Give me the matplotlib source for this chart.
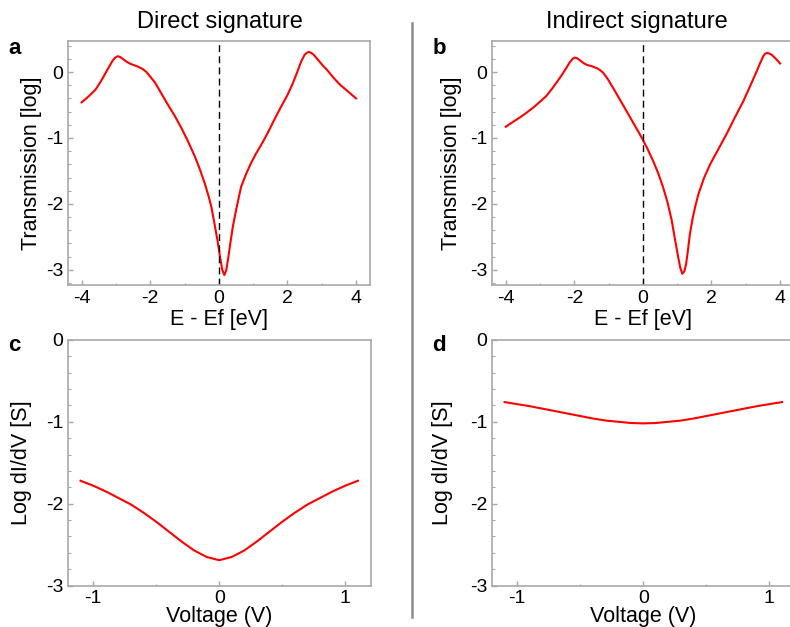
import matplotlib
matplotlib.use("Agg")
import matplotlib.pyplot as plt
from matplotlib.lines import Line2D
from matplotlib.ticker import MultipleLocator

plt.rcParams["font.family"] = ["Liberation Sans", "DejaVu Sans"]
plt.rcParams["axes.unicode_minus"] = False

# transmission spectra, log scale
e_direct = [-4.0, -3.8, -3.6, -3.45, -3.31, -3.2, -3.1, -3.02, -2.95, -2.88,
            -2.80, -2.70, -2.58, -2.45, -2.35, -2.22, -2.11, -2.0, -1.86, -1.67,
            -1.48, -1.28, -1.09, -0.90, -0.70, -0.55, -0.41, -0.30, -0.22, -0.12,
            -0.04, 0.04, 0.10, 0.16, 0.22, 0.28, 0.34, 0.41, 0.52, 0.65,
            0.80, 0.94, 1.08, 1.23, 1.42, 1.61, 1.80, 2.0, 2.15, 2.29,
            2.40, 2.50, 2.57, 2.63, 2.70, 2.77, 2.90, 3.03, 3.16, 3.35,
            3.55, 3.78, 4.0]
t_direct = [-0.46, -0.37, -0.27, -0.15, -0.02, 0.08, 0.17, 0.22, 0.24, 0.23,
            0.20, 0.16, 0.125, 0.10, 0.08, 0.045, 0.0, -0.07, -0.16, -0.33,
            -0.50, -0.67, -0.85, -1.05, -1.28, -1.48, -1.69, -1.88, -2.04, -2.32,
            -2.55, -2.82, -3.0, -3.08, -3.0, -2.80, -2.58, -2.34, -2.05, -1.74,
            -1.54, -1.38, -1.24, -1.11, -0.93, -0.73, -0.54, -0.35, -0.18, 0.005,
            0.16, 0.26, 0.295, 0.305, 0.29, 0.26, 0.18, 0.10, 0.03, -0.09,
            -0.20, -0.30, -0.40]

e_indirect = [-4.0, -3.8, -3.59, -3.40, -3.20, -3.0, -2.81, -2.66, -2.52, -2.37,
              -2.23, -2.13, -2.05, -1.99, -1.92, -1.84, -1.74, -1.64, -1.50, -1.35,
              -1.25, -1.16, -1.02, -0.87, -0.68, -0.48, -0.26, -0.04, 0.13, 0.30,
              0.45, 0.59, 0.72, 0.84, 0.94, 1.03, 1.09, 1.15, 1.21, 1.26,
              1.31, 1.37, 1.45, 1.53, 1.62, 1.78, 1.96, 2.20, 2.44, 2.68,
              2.93, 3.13, 3.32, 3.43, 3.51, 3.56, 3.61, 3.67, 3.76, 3.88, 4.0]
t_indirect = [-0.83, -0.76, -0.69, -0.62, -0.54, -0.45, -0.36, -0.26, -0.16, -0.05,
              0.065, 0.15, 0.20, 0.22, 0.21, 0.18, 0.14, 0.11, 0.09, 0.06,
              0.03, -0.01, -0.11, -0.24, -0.41, -0.59, -0.79, -0.99, -1.16, -1.35,
              -1.54, -1.75, -1.98, -2.25, -2.55, -2.81, -2.97, -3.06, -3.02, -2.91,
              -2.72, -2.46, -2.22, -2.03, -1.85, -1.61, -1.40, -1.17, -0.94, -0.69,
              -0.44, -0.21, 0.015, 0.15, 0.24, 0.275, 0.29, 0.285, 0.26, 0.20, 0.13]

# differential conductance
v_bias = [-1.1, -1.0, -0.9, -0.8, -0.7, -0.6, -0.5, -0.4, -0.3, -0.2, -0.1, 0.0,
          0.1, 0.2, 0.3, 0.4, 0.5, 0.6, 0.7, 0.8, 0.9, 1.0, 1.1]
g_direct = [-1.72, -1.78, -1.85, -1.93, -2.01, -2.11, -2.22, -2.34, -2.46, -2.57,
            -2.65, -2.69, -2.65, -2.57, -2.46, -2.34, -2.22, -2.11, -2.01, -1.93,
            -1.85, -1.78, -1.72]
g_indirect = [-0.76, -0.785, -0.81, -0.84, -0.87, -0.90, -0.93, -0.96, -0.985, -1.0,
              -1.015, -1.02, -1.015, -1.0, -0.985, -0.96, -0.93, -0.90, -0.87, -0.84,
              -0.81, -0.785, -0.76]

SPINE = "#a8a8a8"
RED = "#ff0000"


def style_axes(ax):
    for side in ax.spines.values():
        side.set_color(SPINE)
        side.set_linewidth(1.2)
    ax.tick_params(which="both", direction="in", color=SPINE, labelsize=14,
                   pad=3.5)
    ax.tick_params(which="major", length=3.5, width=1)
    ax.tick_params(which="minor", length=1.8, width=0.8)
    ax.yaxis.set_minor_locator(MultipleLocator(0.2))


fig = plt.figure(figsize=(7.9, 6.27), dpi=100)

ax_a = fig.add_axes([0.086, 0.5455, 0.382, 0.389])
ax_b = fig.add_axes([0.6228, 0.5455, 0.382, 0.389])
ax_c = fig.add_axes([0.086, 0.066, 0.383, 0.392])
ax_d = fig.add_axes([0.6228, 0.066, 0.383, 0.392])

for ax, e, t in ((ax_a, e_direct, t_direct), (ax_b, e_indirect, t_indirect)):
    ax.plot(e, t, color=RED, lw=1.5)
    ax.axvline(0, color="black", lw=1, ls=(0, (5, 3)))
    ax.set_xlim(-4.4, 4.4)
    ax.set_ylim(-3.23, 0.47)
    ax.set_xticks([-4, -2, 0, 2, 4])
    ax.set_yticks([-3, -2, -1, 0])
    ax.xaxis.set_minor_locator(MultipleLocator(1))
    ax.set_xlabel("E - Ef [eV]", fontsize=15.5)
    ax.set_ylabel("Transmission [log]", fontsize=15.5)
    style_axes(ax)

for ax, g in ((ax_c, g_direct), (ax_d, g_indirect)):
    ax.plot(v_bias, g, color=RED, lw=1.5)
    ax.set_xlim(-1.2, 1.2)
    ax.set_ylim(-3, 0)
    ax.set_xticks([-1, 0, 1])
    ax.set_yticks([-3, -2, -1, 0])
    ax.xaxis.set_minor_locator(MultipleLocator(0.5))
    ax.set_xlabel("Voltage (V)", fontsize=15.5)
    ax.set_ylabel("Log dI/dV [S]", fontsize=15.5)
    style_axes(ax)

ax_a.xaxis.set_label_coords(0.5, -0.1)
ax_b.xaxis.set_label_coords(0.5, -0.1)
ax_c.xaxis.set_label_coords(0.5, -0.081)
ax_d.xaxis.set_label_coords(0.5, -0.081)
ax_a.yaxis.set_label_coords(-0.086, 0.5)
ax_b.yaxis.set_label_coords(-0.099, 0.5)
ax_c.yaxis.set_label_coords(-0.119, 0.5)
ax_d.yaxis.set_label_coords(-0.129, 0.5)

fig.text(0.278, 0.965, "Direct signature", ha="center", va="center", fontsize=17)
fig.text(0.806, 0.965, "Indirect signature", ha="center", va="center", fontsize=17)

for x, y, letter in ((0.018, 0.923, "a"), (0.556, 0.923, "b"),
                     (0.018, 0.449, "c"), (0.556, 0.449, "d")):
    fig.text(x, y, letter, ha="center", va="center", fontsize=16,
             fontweight="bold")

# divider between the two columns
fig.add_artist(Line2D([0.521, 0.521], [1 - 23 / 627, 1 - 617 / 627],
                      transform=fig.transFigure, color="#8c8c8c", lw=1.8))

fig.savefig("out.png", dpi=100)
